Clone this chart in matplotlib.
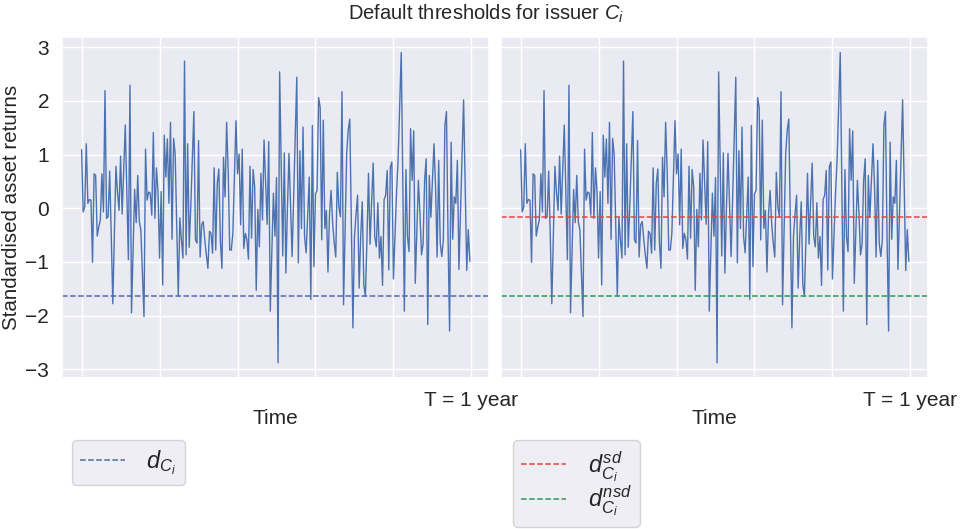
import numpy as np
import matplotlib
matplotlib.use('Agg')
import matplotlib.pyplot as plt
import seaborn as sns

sns.set_theme(style='darkgrid')
plt.rcParams['font.family'] = ['Liberation Sans', 'DejaVu Sans']
plt.rcParams['mathtext.fontset'] = 'custom'
plt.rcParams['mathtext.rm'] = 'Liberation Sans'
plt.rcParams['mathtext.it'] = 'Liberation Sans:italic'

# standardised asset returns (one per trading day)
returns = [
    1.09, -0.07, 0.02, 1.2, 0.09, 0.16, 0.15, -1.01, 0.64, 0.61,
    -0.52, -0.35, -0.22, 0.64, -0.07, 2.19, -0.19, -0.16, 0.69, -0.5,
    -1.78, -0.5, 0.78, 0.3, -0.04, 0.97, -0.11, 0.7, 1.55, 0.3,
    -0.96, 2.29, -1.95, -0.8, 0.35, -0.27, 0.61, -0.25, -0.41, -1.2,
    -2.02, 1.1, 0.15, 0.3, 0.28, -0.13, 1.41, -0.19, 0.75, 0.3,
    -0.93, 0.31, -1.43, 1.36, 0.58, 1.29, 0.09, 1.6, -0.58, 1.3,
    1.01, -0.3, -1.64, -0.18, -0.59, -0.93, 2.74, -0.87, 1.2, -0.73,
    0.02, 0.9, 1.8, -0.59, -0.65, 1.26, -0.91, -0.31, -0.25, -0.59,
    -0.87, -1.12, -0.43, -0.47, -0.84, 0.75, -0.78, 0.46, 0.73, -0.62,
    -1.12, 0.95, 0.21, 1.6, 0.7, -0.78, -0.78, -0.47, 0.6, 1.63,
    0.64, 1.01, -0.31, 1.1, -0.75, -0.47, -0.58, -0.95, 0.78, -0.56,
    0.72, 0.4, -1.53, -0.02, -0.72, 0.65, -0.22, 1.27, 0.5, -0.3,
    1.24, -1.92, -0.8, 0.28, -0.52, 0.57, -2.88, 2.54, 0.8, -0.89,
    1.03, -1.21, 0.0, 1.02, 0.05, -0.9, 0.2, 1.3, 2.44, -1.02,
    1.07, -0.38, 1.51, -0.53, -0.83, -0.1, 0.58, -1.7, 1.54, -1.09,
    0.27, 0.33, 2.06, 1.88, -0.59, 1.64, -0.38, -0.04, -1.19, -0.1,
    0.33, -0.28, -0.64, -0.91, 0.67, 0.02, -0.16, 2.17, -1.8, -0.4,
    1.01, 1.46, 1.66, -0.35, -2.23, -0.53, -0.11, 0.24, -1.49, -0.53,
    0.12, -1.43, -1.64, -0.59, 0.65, -0.67, 0.12, 0.84, -0.53, -0.72,
    0.1, -0.93, -0.53, -1.44, 0.16, 0.24, 0.7, -1.15, 0.77, 0.86,
    -1.32, -0.5, 0.3, 0.92, 1.9, 2.9, 0.5, -1.92, 0.72, -0.53,
    -0.81, 1.48, 0.52, 1.44, -1.4, -0.45, 0.52, -0.1, -0.87, -0.67,
    0.52, 0.92, -2.17, 0.61, -0.17, 0.5, 1.2, 0.4, -0.91, 0.89,
    -0.65, -0.9, -0.59, 1.54, 1.8, -0.5, -2.29, 1.23, -0.58, 0.21,
    0.09, 0.89, -1.14, -0.1, 0.9, 2.02, 0.4, -1.16, -0.4, -0.99,
]

d_ci = -1.645   # single default threshold
d_sd = -0.16    # threshold, senior debt
d_nsd = -1.645  # threshold, non-senior debt

xtick_pos = [0, 50, 100, 150, 200, 250]
xtick_labels = ['', '', '', '', '', 'T = 1 year']

t = np.arange(len(returns))

fig, (ax1, ax2) = plt.subplots(1, 2, figsize=(9.72, 5.29), dpi=100, sharey=True)
fig.subplots_adjust(left=0.064, right=0.955, top=0.930, bottom=0.285, wspace=0.028)

for ax in (ax1, ax2):
    ax.plot(t, returns, color='#4c72b0', lw=1.0)
    ax.set_xticks(xtick_pos)
    ax.set_xticklabels(xtick_labels)
    ax.set_xlabel('Time', fontsize=15, labelpad=-1)
    ax.tick_params(labelsize=15)

ax1.axhline(d_ci, color='#4c6fa8', ls='--', lw=1.1, label=r'$d_{C_i}$')
ax2.axhline(d_sd, color='#e8453f', ls='--', lw=1.1, label=r'$d_{C_i}^{sd}$')
ax2.axhline(d_nsd, color='#2e9b4f', ls='--', lw=1.1, label=r'$d_{C_i}^{nsd}$')

ax1.set_ylabel('Standardised asset returns', fontsize=14.8, labelpad=3)

leg_kw = dict(loc='upper left', fontsize=17, borderaxespad=0, borderpad=0.35,
              labelspacing=0.0, handlelength=1.9, handletextpad=0.9)
ax1.legend(bbox_to_anchor=(0.023, -0.182), **leg_kw)
ax2.legend(bbox_to_anchor=(0.028, -0.182), **leg_kw)

fig.suptitle(r'Default thresholds for issuer $C_i$', fontsize=14.5, y=0.995, va='top')

fig.savefig('out.png', dpi=100)
